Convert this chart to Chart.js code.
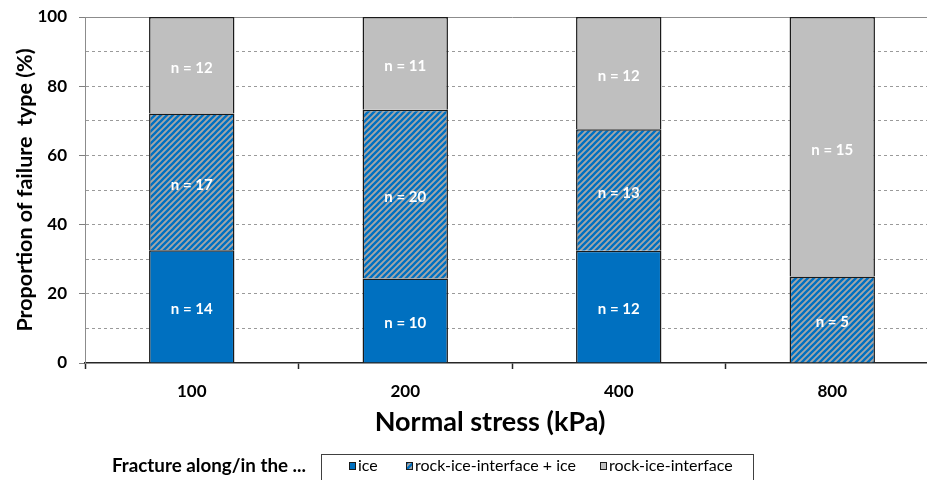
<!DOCTYPE html>
<html>
<head>
<meta charset="utf-8">
<title>Failure type by normal stress</title>
<script src="https://cdn.jsdelivr.net/npm/chart.js@4.4.1/dist/chart.umd.min.js"></script>
<style>
  html, body { margin: 0; padding: 0; background: #fff; }
  #frame { width: 927px; height: 480px; overflow: hidden; }
  #box { width: 939px; height: 480px; }
</style>
</head>
<body>
<div id="frame"><div id="box"><canvas id="chart"></canvas></div></div>
<script>
// number of specimens per failure type at each normal stress (kPa)
const stressLevels = ['100', '200', '400', '800'];
const iceCounts = [14, 10, 12, 0];
const mixedCounts = [17, 20, 13, 5];
const interfaceCounts = [12, 11, 12, 15];
const seriesNames = ['ice', 'rock-ice-interface + ice', 'rock-ice-interface'];
const xTitle = 'Normal stress (kPa)';
const yTitle = 'Proportion of failure  type (%)';
const legendTitle = 'Fracture along/in the ...';

const FONT = 'Lato, "Open Sans", sans-serif';
const ICE_BLUE = '#0070c0';
const LIGHT_GREY = '#bfbfbf';

const totals = stressLevels.map((_, i) => iceCounts[i] + mixedCounts[i] + interfaceCounts[i]);
const toPercent = counts => counts.map((n, i) => n / totals[i] * 100);

// blue diagonal stripes on grey
function makeHatch() {
  const s = 6;
  const c = document.createElement('canvas');
  c.width = s; c.height = s;
  const g = c.getContext('2d');
  g.fillStyle = '#a6a6a6';
  g.fillRect(0, 0, s, s);
  g.strokeStyle = ICE_BLUE;
  g.lineWidth = 2.3;
  g.beginPath();
  g.moveTo(-1, s + 1); g.lineTo(s + 1, -1);
  g.moveTo(-1, 1); g.lineTo(1, -1);
  g.moveTo(s - 1, s + 1); g.lineTo(s + 1, s - 1);
  g.stroke();
  return g.createPattern(c, 'repeat');
}
const hatch = makeHatch();

const barStyle = {
  borderColor: '#1a1a1a',
  borderWidth: 1.5,
  barPercentage: 0.4,
  categoryPercentage: 1.0
};

// "n = .." written in the middle of each segment
const countLabels = {
  id: 'countLabels',
  afterDatasetsDraw(chart) {
    const ctx = chart.ctx;
    ctx.save();
    ctx.font = 'bold 15px ' + FONT;
    ctx.fillStyle = '#ffffff';
    ctx.textAlign = 'center';
    ctx.textBaseline = 'middle';
    chart.data.datasets.forEach((ds, d) => {
      chart.getDatasetMeta(d).data.forEach((bar, i) => {
        const n = ds.counts[i];
        if (!n) return;
        const p = bar.getProps(['x', 'y', 'base'], true);
        ctx.fillText('n = ' + n, p.x, (p.y + p.base) / 2 + 3);
      });
    });
    ctx.restore();
  }
};

// x axis title sits a little left of the plot centre
const stressTitle = {
  id: 'stressTitle',
  afterDraw(chart) {
    const ctx = chart.ctx;
    ctx.save();
    ctx.font = 'bold 27px ' + FONT;
    ctx.fillStyle = '#000';
    ctx.textAlign = 'center';
    ctx.textBaseline = 'middle';
    ctx.fillText(xTitle, chart.chartArea.left + 405, 422);
    ctx.restore();
  }
};

// boxed legend with a caption on its left
const boxedLegend = {
  id: 'boxedLegend',
  afterDraw(chart) {
    const ctx = chart.ctx;
    const swatchX = [349, 406, 600];
    const cy = 466;
    ctx.save();
    ctx.font = 'bold 18.8px ' + FONT;
    ctx.fillStyle = '#000';
    ctx.textAlign = 'left';
    ctx.textBaseline = 'middle';
    ctx.fillText(legendTitle, 112, cy);

    ctx.strokeStyle = '#404040';
    ctx.lineWidth = 1;
    ctx.strokeRect(321.5, 454.5, 432, 40);

    ctx.font = '16px ' + FONT;
    chart.data.datasets.forEach((ds, d) => {
      const x = swatchX[d];
      ctx.fillStyle = ds.backgroundColor;
      ctx.fillRect(x, cy - 4, 7, 8);
      ctx.strokeStyle = '#1a1a1a';
      ctx.strokeRect(x + 0.5, cy - 3.5, 6, 7);
      ctx.fillStyle = '#000';
      ctx.fillText(ds.label, x + 9, cy);
    });
    ctx.restore();
  }
};

new Chart(document.getElementById('chart'), {
  type: 'bar',
  data: {
    labels: stressLevels,
    datasets: [
      Object.assign({ label: seriesNames[0], data: toPercent(iceCounts), counts: iceCounts, backgroundColor: ICE_BLUE }, barStyle),
      Object.assign({ label: seriesNames[1], data: toPercent(mixedCounts), counts: mixedCounts, backgroundColor: hatch }, barStyle),
      Object.assign({ label: seriesNames[2], data: toPercent(interfaceCounts), counts: interfaceCounts, backgroundColor: LIGHT_GREY }, barStyle)
    ]
  },
  plugins: [countLabels, stressTitle, boxedLegend],
  options: {
    responsive: true,
    maintainAspectRatio: false,
    animation: false,
    layout: { padding: { top: 17, bottom: 40, left: 0, right: 0 } },
    plugins: {
      legend: { display: false },
      tooltip: { enabled: false }
    },
    scales: {
      x: {
        stacked: true,
        afterFit: s => { s.height = 77; s.paddingLeft = 0; s.paddingRight = 0; },
        grid: {
          offset: true,
          drawOnChartArea: false,
          drawTicks: true,
          tickLength: 6,
          tickColor: '#262626',
          tickWidth: 1.5
        },
        border: { color: '#262626', width: 1.5 },
        ticks: {
          padding: 12,
          color: '#000',
          font: { family: FONT, size: 17, weight: 'bold' }
        }
      },
      xTop: {
        type: 'category',
        position: 'top',
        afterFit: s => { s.height = 0; },
        grid: { display: false },
        ticks: { display: false },
        border: { color: '#8c8c8c', width: 1 }
      },
      y: {
        stacked: true,
        min: 0,
        max: 100,
        afterFit: s => { s.width = 85; s.paddingTop = 0; s.paddingBottom = 0; },
        grid: {
          color: c => (c.tick.value === 0 || c.tick.value === 100) ? 'rgba(0,0,0,0)' : '#9a9a9a',
          lineWidth: 1,
          tickLength: 6,
          tickColor: c => c.tick.value % 20 === 0 ? '#7f7f7f' : 'rgba(0,0,0,0)',
          tickBorderDash: [1, 0]
        },
        border: { color: '#8c8c8c', width: 1, dash: [3, 3] },
        ticks: {
          stepSize: 10,
          padding: 12,
          color: '#000',
          callback: v => v % 20 === 0 ? v : '',
          font: { family: FONT, size: 17, weight: 'bold' }
        },
        title: {
          display: true,
          text: yTitle,
          color: '#000',
          padding: { top: 12, bottom: 0 },
          font: { family: FONT, size: 21.5, weight: 'bold' }
        }
      }
    }
  }
});
</script>
</body>
</html>
